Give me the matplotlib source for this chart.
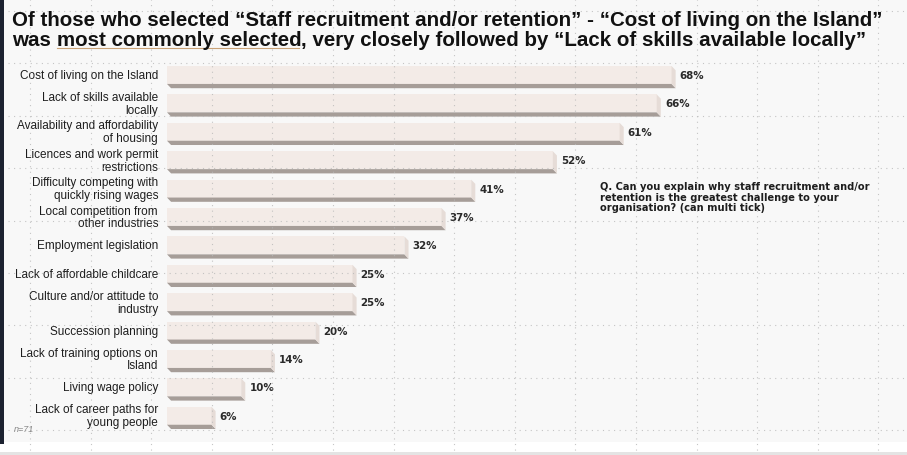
import numpy as np
import matplotlib.pyplot as plt
from matplotlib.patches import Polygon, Rectangle

# reasons given, top to bottom
categories = [
    "Cost of living on the Island",
    "Lack of skills available\nlocally",
    "Availability and affordability\nof housing",
    "Licences and work permit\nrestrictions",
    "Difficulty competing with\nquickly rising wages",
    "Local competition from\nother industries",
    "Employment legislation",
    "Lack of affordable childcare",
    "Culture and/or attitude to\nindustry",
    "Succession planning",
    "Lack of training options on\nIsland",
    "Living wage policy",
    "Lack of career paths for\nyoung people",
]
percent = [68, 66, 61, 52, 41, 37, 32, 25, 25, 20, 14, 10, 6]

title_1 = "Of those who selected \u201cStaff recruitment and/or retention\u201d - \u201cCost of living on the Island\u201d"
title_2a = "was "
title_2b = "most commonly selected"
title_2c = ", very closely followed by \u201cLack of skills available locally\u201d"
question = ("Q. Can you explain why staff recruitment and/or\n"
            "retention is the greatest challenge to your\n"
            "organisation? (can multi tick)")
base_note = "n=71"

W, H = 907, 456
plt.rcParams["font.family"] = ["Liberation Sans", "DejaVu Sans"]
wide = ["DejaVu Sans"]

fig = plt.figure(figsize=(W / 100, H / 100), dpi=100)
fig.patch.set_facecolor("white")

# background layer in pixel coordinates
bg = fig.add_axes([0, 0, 1, 1], zorder=0)
bg.set_xlim(0, W)
bg.set_ylim(H, 0)
bg.axis("off")
bg.add_patch(Rectangle((0, 0), W, 443, color="#f8f8f8", lw=0))
bg.add_patch(Rectangle((0, 453), W, 3, color="#e4e4e4", lw=0))
bg.add_patch(Rectangle((0, 0), 4, 445, color="#1c2230", lw=0))

# bars
px_per_pct = 7.42
left_px, top_px, pitch = 167, 61.8, 28.4
n = len(categories)
ax = fig.add_axes([left_px / W, 1 - (top_px + n * pitch) / H,
                   (W - left_px) / W, n * pitch / H], zorder=1)
ax.set_xlim(0, (W - left_px) / px_per_pct)
ax.set_ylim(n - 0.5, -0.5)
ax.axis("off")
ax.patch.set_alpha(0)

ypos = np.arange(n)
bar_h = 0.63
dx, dy = 0.55, 0.15
face, side, shade = "#f3ebe7", "#e6dcd7", "#a69d98"

ax.barh(ypos, percent, height=bar_h, color=face, lw=0, zorder=2)
for y, v in zip(ypos, percent):
    b = y + bar_h / 2
    t = y - bar_h / 2
    ax.add_patch(Polygon([(0, b), (v, b), (v + dx, b + dy), (dx, b + dy)],
                         closed=True, color=shade, lw=0, zorder=2))
    ax.add_patch(Polygon([(v, t), (v + dx, t + dy), (v + dx, b + dy), (v, b)],
                         closed=True, color=side, lw=0, zorder=2))
    ax.text(v + 1.1, y, f"{v}%", ha="left", va="center", fontsize=7.4,
            fontweight="bold", color="#2a2a2a", family=wide, zorder=3)

for y, lab in zip(ypos, categories):
    ax.text(-1.2, y, lab, ha="right", va="center", fontsize=8.5,
            color="#1e1e1e", linespacing=1.07, clip_on=False)

# dotted guide grid on top
grid = fig.add_axes([0, 0, 1, 1], zorder=2)
grid.set_xlim(0, W)
grid.set_ylim(H, 0)
grid.axis("off")
grid.patch.set_alpha(0)
for gx in np.arange(30, W, 60.6):
    grid.plot([gx, gx], [0, H], color="#b8b8b8", lw=0.8,
              ls=(0, (1, 4)), alpha=0.8)
for gy in np.arange(12, 440, 52.4):
    grid.plot([8, W], [gy, gy], color="#b8b8b8", lw=0.8,
              ls=(0, (1, 4)), alpha=0.8)

# titles
fs = 14.8
grid.text(12, 26, title_1, fontsize=fs, fontweight="bold", color="#111111",
          va="baseline", ha="left")
t_a = grid.text(12, 46, title_2a, fontsize=fs, fontweight="bold",
                color="#111111", va="baseline", ha="left")
fig.canvas.draw()
r = fig.canvas.get_renderer()
ext_a = t_a.get_window_extent(r)
x_b = 12 + ext_a.width
t_b = grid.text(x_b, 46, title_2b, fontsize=fs, fontweight="bold",
                color="#111111", va="baseline", ha="left")
ext_b = t_b.get_window_extent(r)
x_c = x_b + ext_b.width
grid.text(x_c, 46, title_2c, fontsize=fs, fontweight="bold",
          color="#111111", va="baseline", ha="left")
grid.plot([x_b, x_c - 2], [48.5, 48.5], color="#c9a277", lw=0.8)

grid.text(600, 182, question, fontsize=7.15, fontweight="bold", color="#1e1e1e",
          va="top", ha="left", linespacing=1.08, family=wide)
grid.text(14, 430, base_note, fontsize=6.5, style="italic", color="#8a8a8a",
          va="center", ha="left")

fig.savefig("out.png", dpi=100, facecolor=fig.get_facecolor())
